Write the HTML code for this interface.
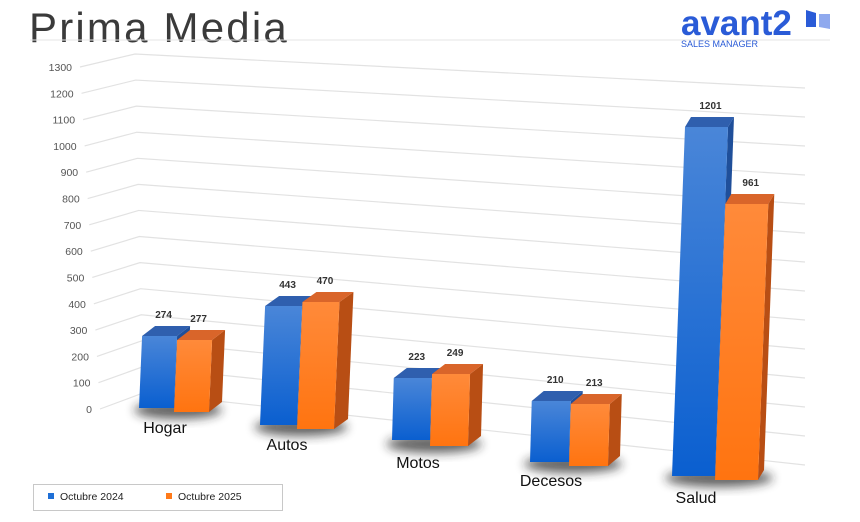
<!DOCTYPE html>
<html><head><meta charset="utf-8"><style>
html,body{margin:0;padding:0;background:#fff;}
body{width:860px;height:522px;overflow:hidden;position:relative;font-family:"Liberation Sans",sans-serif;}
.title{position:absolute;left:29px;top:4px;font-size:42px;color:#3a3a3a;letter-spacing:2.2px;}
</style></head><body>
<div class="title">Prima Media</div>
<svg id="s" width="860" height="522" style="position:absolute;left:0;top:0" xmlns="http://www.w3.org/2000/svg">
<defs>
<linearGradient id="gb" x1="0" y1="0" x2="0" y2="1"><stop offset="0" stop-color="#4a86d8"/><stop offset="1" stop-color="#0a5fd0"/></linearGradient>
<linearGradient id="go" x1="0" y1="0" x2="0" y2="1"><stop offset="0" stop-color="#ff8a3a"/><stop offset="1" stop-color="#ff7410"/></linearGradient>
<filter id="bl" x="-50%" y="-50%" width="200%" height="200%"><feGaussianBlur stdDeviation="5"/></filter>
</defs>
<line x1="30" y1="40" x2="830" y2="40" stroke="#e4e4e4" stroke-width="1"/>
<text x="681" y="35" font-size="35" font-weight="bold" fill="#2a5bd7" font-family="Liberation Sans,sans-serif">avant2</text>
<polygon points="806,10 816,13 816,27 806,27" fill="#2a5bd7"/>
<polygon points="819,14 830,14 830,29 819,27" fill="#8fa9ee"/>
<text x="681" y="47" font-size="9" fill="#2a5bd7" font-family="Liberation Sans,sans-serif">SALES MANAGER</text>
<g id="grid"></g>
<g id="bars"></g>
<rect x="33.5" y="484.5" width="249" height="26" fill="#fff" stroke="#c8c8c8"/>
<rect x="48" y="493" width="6" height="6" fill="#1f6fd6"/>
<text x="60" y="500" font-size="10.5" fill="#222">Octubre 2024</text>
<rect x="166" y="493" width="6" height="6" fill="#ff7a1a"/>
<text x="178" y="500" font-size="10.5" fill="#222">Octubre 2025</text>
</svg>
<script>
var NS="http://www.w3.org/2000/svg";
function el(p,t,a,txt){var e=document.createElementNS(NS,t);for(var k in a)e.setAttribute(k,a[k]);if(txt!=null)e.textContent=txt;p.appendChild(e);return e;}
var g=document.getElementById('grid');
for(var i=0;i<=13;i++){var f=(13-i)/13;
 var lx=80+f*20, ly=67+f*342, cx=135+f*8, cy=54+f*339, rx=805, ry=88+f*377;
 el(g,'polyline',{points:lx+','+ly+' '+cx+','+cy+' '+rx+','+ry,fill:'none',stroke:'#e2e2e2','stroke-width':1.2});
 el(g,'text',{x:lx-8,y:ly+4,'font-size':10.5,fill:'#555','text-anchor':'end'},String(i*100));
}
var b=document.getElementById('bars');
var cats=[
 [139,408,35,412,336,340,13,3,[274,277],'Hogar',165,433],
 [260,425,37,429,306,302,14,3,[443,470],'Autos',287,450],
 [392,440,38,446,378,374,13,2,[223,249],'Motos',418,468],
 [530,462,39,466,401,404,12,2,[210,213],'Decesos',551,486],
 [672,476,43,480,127,204,6,-13,[1201,961],'Salud',696,503]
];
cats.forEach(function(c){
 var x=c[0],w=c[2],dx=c[6],dy=-10,sl=c[7];
 el(b,'ellipse',{cx:x+w+4,cy:c[3]-2,rx:w*1.25,ry:9,fill:'#222',opacity:0.7,filter:'url(#bl)'});
 function bar(x0,yb,yt,fill,top,side){
  var s=(yb-yt)*(sl/70); if(sl<0) s=-sl*(yb-yt)/349;
  var BL=[x0,yb],BR=[x0+w,yb],TR=[x0+w+s,yt],TL=[x0+s,yt];
  el(b,'polygon',{points:[TR,[TR[0]+dx,yt+dy],[BR[0]+dx,yb+dy],BR].join(' '),fill:side});
  el(b,'polygon',{points:[TL,[TL[0]+dx,yt+dy],[TR[0]+dx,yt+dy],TR].join(' '),fill:top});
  el(b,'polygon',{points:[BL,BR,TR,TL].join(' '),fill:fill});
  return TL;
 }
 var tb=bar(x,c[1],c[4],'url(#gb)','#2f5fae','#1f4f9a');
 var to=bar(x+w,c[3],c[5],'url(#go)','#d9652a','#b84e14');
 el(b,'text',{x:tb[0]+w/2+4,y:c[4]-18,'font-size':10,'font-weight':'bold',fill:'#333','text-anchor':'middle'},String(c[8][0]));
 el(b,'text',{x:to[0]+w/2+4,y:c[5]-18,'font-size':10,'font-weight':'bold',fill:'#333','text-anchor':'middle'},String(c[8][1]));
 el(b,'text',{x:c[10],y:c[11],'font-size':16,fill:'#111','text-anchor':'middle'},c[9]);
});
</script>
</body></html>
